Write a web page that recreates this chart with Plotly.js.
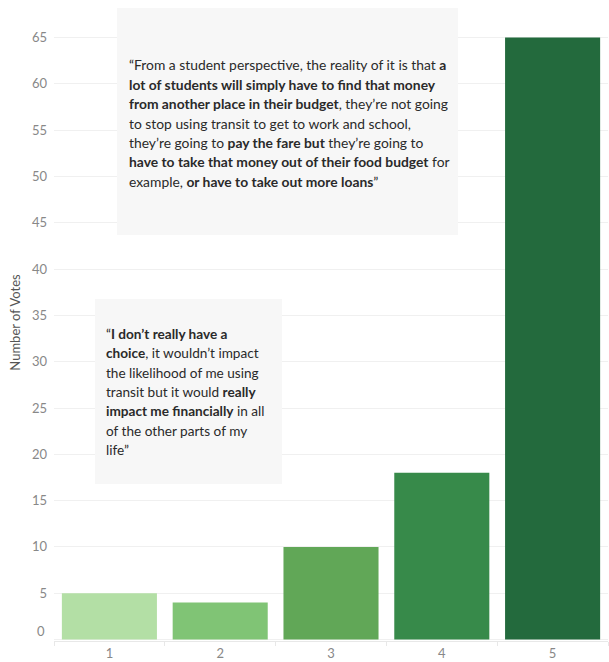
<!DOCTYPE html>
<html>
<head>
<meta charset="utf-8">
<script src="https://cdn.plot.ly/plotly-3.0.1.min.js"></script>
<style>
  html, body { margin: 0; padding: 0; background: #ffffff; }
  #chart { width: 609px; height: 662px; }
</style>
</head>
<body>
<div id="chart"></div>
<script>
// ---- data ----
const categories = ['1', '2', '3', '4', '5'];
const votes = [5, 4, 10, 18, 65];
const barColors = ['#b3dfa5', '#80c475', '#61a757', '#378a4a', '#236a3d'];
const yTickVals = [0, 5, 10, 15, 20, 25, 30, 35, 40, 45, 50, 55, 60, 65];
const yTickText = ['', '5', '10', '15', '20', '25', '30', '35', '40', '45', '50', '55', '60', '65'];
const yZeroLabel = '0';
const yTitle = 'Number of Votes';

const quote1Lines = [
  '“From a student perspective, the reality of it is that <b>a</b>',
  '<b>lot of students will simply have to find that money</b>',
  '<b>from another place in their budget</b>, they’re not going',
  'to stop using transit to get to work and school,',
  'they’re going to <b>pay the fare but</b> they’re going to',
  '<b>have to take that money out of their food budget</b> for',
  'example, <b>or have to take out more loans</b>”'
];
const quote2Lines = [
  '“<b>I don’t really have a</b>',
  '<b>choice</b>, it wouldn’t impact',
  'the likelihood of me using',
  'transit but it would <b>really</b>',
  '<b>impact me financially</b> in all',
  'of the other parts of my',
  'life”'
];

// ---- layout helpers (pixel -> paper) ----
const W = 609, H = 662;
const M = { l: 54, r: 1, t: 4, b: 21 };
const pw = W - M.l - M.r, ph = H - M.t - M.b;
const px = x => (x - M.l) / pw;
const py = y => (H - M.b - y) / ph;

const FONT = 'Lato, "Open Sans", sans-serif';

const shapes = [
  { type: 'rect', xref: 'paper', yref: 'paper', x0: px(117), x1: px(458), y0: py(235), y1: py(8),
    fillcolor: '#f7f7f7', line: { width: 0 }, layer: 'above' },
  { type: 'rect', xref: 'paper', yref: 'paper', x0: px(95), x1: px(282), y0: py(484), y1: py(299),
    fillcolor: '#f7f7f7', line: { width: 0 }, layer: 'above' }
];

const annotations = [];
quote1Lines.forEach((t, i) => annotations.push({
  xref: 'paper', yref: 'paper', x: px(126.5), y: py(65 + i * 19.4),
  xanchor: 'left', yanchor: 'middle', showarrow: false, align: 'left',
  text: t, font: { family: FONT, size: 13.85, color: '#2a2a2a' }
}));
quote2Lines.forEach((t, i) => annotations.push({
  xref: 'paper', yref: 'paper', x: px(104), y: py(334 + i * 19.3),
  xanchor: 'left', yanchor: 'middle', showarrow: false, align: 'left',
  text: t, font: { family: FONT, size: 13.6, color: '#2a2a2a' }
}));
// zero label sits a little above the baseline, as in the original
annotations.push({
  xref: 'paper', yref: 'y', x: px(47), y: yTickVals[0], yshift: 9,
  xanchor: 'right', yanchor: 'middle', showarrow: false,
  text: yZeroLabel, font: { family: FONT, size: 13, color: '#888888' }
});

const trace = {
  type: 'bar',
  x: categories,
  y: votes,
  marker: { color: barColors, line: { width: 0 } },
  hoverinfo: 'skip'
};

const layout = {
  width: W, height: H,
  margin: M,
  paper_bgcolor: '#ffffff',
  plot_bgcolor: '#ffffff',
  showlegend: false,
  bargap: 0.142,
  font: { family: FONT, color: '#888888', size: 13 },
  xaxis: {
    type: 'category',
    showgrid: false,
    showline: true, linecolor: '#e8e8e8', linewidth: 1,
    ticks: 'outside', tickson: 'boundaries', ticklen: 4, tickcolor: '#e8e8e8',
    tickfont: { family: FONT, size: 13, color: '#888888' },
    fixedrange: true
  },
  yaxis: {
    range: [-0.16, 68.63],
    tickmode: 'array', tickvals: yTickVals, ticktext: yTickText,
    showgrid: true, gridcolor: '#f0f0f0', gridwidth: 1,
    zeroline: false, showline: false, ticks: '',
    ticklabelstandoff: 6,
    tickfont: { family: FONT, size: 13, color: '#888888' },
    title: { text: yTitle, font: { family: FONT, size: 13, color: '#555555' }, standoff: 8 },
    fixedrange: true
  },
  shapes: shapes,
  annotations: annotations
};

Plotly.newPlot('chart', [trace], layout, { displayModeBar: false, staticPlot: true });
</script>
</body>
</html>
